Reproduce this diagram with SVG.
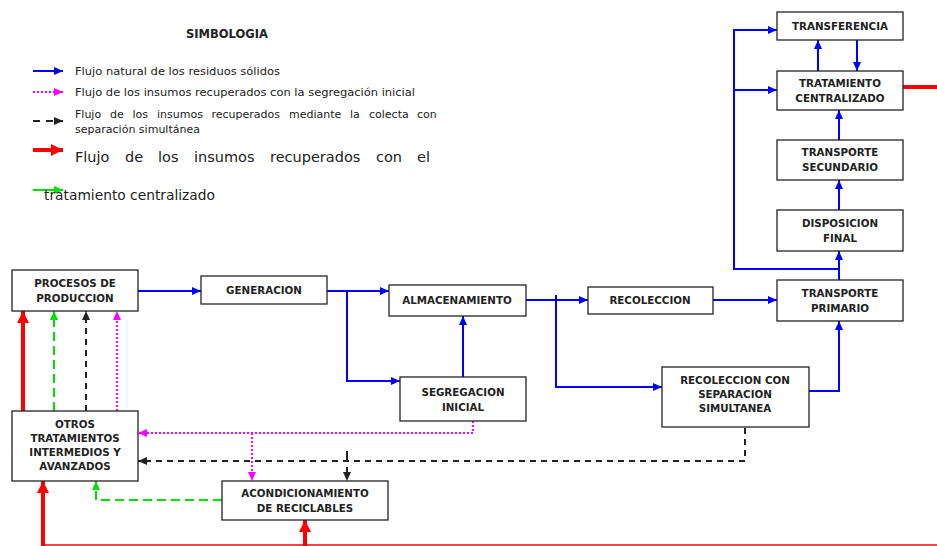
<svg xmlns="http://www.w3.org/2000/svg" width="937" height="546" viewBox="0 0 937 546">
<defs>
<style>
.box{fill:#fff;stroke:#222;stroke-width:1.3}
.lbl{font-family:"DejaVu Sans",Verdana,sans-serif;font-weight:bold;font-size:10.3px;fill:#222;text-anchor:middle}
.leg{font-family:"DejaVu Sans",Verdana,sans-serif;font-size:11px;fill:#222}
.legbig{font-family:"DejaVu Sans",Verdana,sans-serif;font-size:14.5px;fill:#222}
.b{stroke:#0000ff;stroke-width:2;fill:none}
.m{stroke:#ff00ff;stroke-width:2;fill:none;stroke-dasharray:2,2}
.k{stroke:#222;stroke-width:2;fill:none;stroke-dasharray:6,5}
.g{stroke:#00e000;stroke-width:2;fill:none;stroke-dasharray:9,5}
.r{stroke:#ff0000;stroke-width:4;fill:none}
.rt{stroke:#ff0000;stroke-width:1.5;fill:none}
</style>
<marker id="ab" markerUnits="userSpaceOnUse" markerWidth="9" markerHeight="8" refX="9" refY="4" orient="auto"><path d="M0,0 L9,4 L0,8 z" fill="#0000ff"/></marker>
<marker id="am" markerUnits="userSpaceOnUse" markerWidth="9" markerHeight="8" refX="9" refY="4" orient="auto"><path d="M0,0 L9,4 L0,8 z" fill="#ff00ff"/></marker>
<marker id="ak" markerUnits="userSpaceOnUse" markerWidth="9" markerHeight="8" refX="9" refY="4" orient="auto"><path d="M0,0 L9,4 L0,8 z" fill="#222"/></marker>
<marker id="ag" markerUnits="userSpaceOnUse" markerWidth="9" markerHeight="8" refX="9" refY="4" orient="auto"><path d="M0,0 L9,4 L0,8 z" fill="#00e000"/></marker>
<marker id="ar" markerUnits="userSpaceOnUse" markerWidth="12" markerHeight="12" refX="12" refY="6" orient="auto"><path d="M0,0 L12,6 L0,12 z" fill="#ff0000"/></marker>
</defs>
<rect width="937" height="546" fill="#fff"/>

<g id="legend">
<text x="227" y="38" class="lbl" style="font-size:11.5px">SIMBOLOGIA</text>
<line x1="33" y1="71" x2="63" y2="71" class="b" marker-end="url(#ab)"/>
<text x="75" y="75" class="leg" textLength="205" lengthAdjust="spacingAndGlyphs">Flujo natural de los residuos sólidos</text>
<line x1="33" y1="92" x2="63" y2="92" class="m" marker-end="url(#am)"/>
<text x="75" y="96" class="leg" textLength="340" lengthAdjust="spacingAndGlyphs">Flujo de los insumos recuperados con la segregación inicial</text>
<line x1="33" y1="121" x2="63" y2="121" class="k" style="stroke-dasharray:7,6" marker-end="url(#ak)"/>
<text y="118" class="leg"><tspan x="75">Flujo</tspan><tspan x="110">de</tspan><tspan x="132.5">los</tspan><tspan x="157">insumos</tspan><tspan x="211.5">recuperados</tspan><tspan x="289">mediante</tspan><tspan x="350">la</tspan><tspan x="369">colecta</tspan><tspan x="417">con</tspan></text>
<text x="75" y="133" class="leg" textLength="125" lengthAdjust="spacingAndGlyphs">separación simultánea</text>
<line x1="33" y1="150" x2="63" y2="150" class="r" marker-end="url(#ar)"/>
<text y="162" class="legbig"><tspan x="75">Flujo</tspan><tspan x="125">de</tspan><tspan x="158">los</tspan><tspan x="194">insumos</tspan><tspan x="270">recuperados</tspan><tspan x="376">con</tspan><tspan x="417">el</tspan></text>
<line x1="33" y1="190" x2="63" y2="190" class="b" style="stroke:#00e000" marker-end="url(#ag)"/>
<text x="44" y="200" class="legbig" textLength="171" lengthAdjust="spacingAndGlyphs">tratamiento centralizado</text>
</g>

<g id="connectors">
<line x1="138" y1="291" x2="201" y2="291" class="b" marker-end="url(#ab)"/>
<line x1="327" y1="291" x2="389" y2="291" class="b" marker-end="url(#ab)"/>
<polyline points="347,291 347,381 400,381" class="b" marker-end="url(#ab)"/>
<line x1="463" y1="377" x2="463" y2="316" class="b" marker-end="url(#ab)"/>
<line x1="526" y1="300" x2="588" y2="300" class="b" marker-end="url(#ab)"/>
<line x1="556" y1="295" x2="556" y2="300" class="b"/>
<polyline points="556,300 556,387 662,387" class="b" marker-end="url(#ab)"/>
<line x1="713" y1="300" x2="777" y2="300" class="b" marker-end="url(#ab)"/>
<polyline points="809,391 839,391 839,321" class="b" marker-end="url(#ab)"/>
<line x1="839" y1="280" x2="839" y2="251" class="b" marker-end="url(#ab)"/>
<line x1="839" y1="210" x2="839" y2="180" class="b" marker-end="url(#ab)"/>
<line x1="839" y1="140" x2="839" y2="110" class="b" marker-end="url(#ab)"/>
<polyline points="839,269 734,269 734,30 777,30" class="b" marker-end="url(#ab)"/>
<line x1="734" y1="90" x2="777" y2="90" class="b" marker-end="url(#ab)"/>
<line x1="818" y1="71" x2="818" y2="40" class="b" marker-end="url(#ab)"/>
<line x1="857" y1="40" x2="857" y2="71" class="b" marker-end="url(#ab)"/>
<polyline points="473,421 473,433 138,433" class="m" marker-end="url(#am)"/>
<line x1="252" y1="433" x2="252" y2="481" class="m" marker-end="url(#am)"/>
<line x1="117" y1="411" x2="117" y2="311" class="m" marker-end="url(#am)"/>
<polyline points="745,428 745,461 138,461" class="k" marker-end="url(#ak)"/>
<line x1="347" y1="451" x2="347" y2="481" class="k" style="stroke-dasharray:10,6" marker-end="url(#ak)"/>
<line x1="86" y1="411" x2="86" y2="311" class="k" marker-end="url(#ak)"/>
<polyline points="222,500 96,500 96,481" class="g" marker-end="url(#ag)"/>
<line x1="54" y1="411" x2="54" y2="311" class="g" marker-end="url(#ag)"/>
<line x1="23" y1="411" x2="23" y2="311" class="r" marker-end="url(#ar)"/>
<line x1="43" y1="546" x2="43" y2="481" class="r" marker-end="url(#ar)"/>
<line x1="305" y1="546" x2="305" y2="520" class="r" marker-end="url(#ar)"/>
<line x1="43" y1="545" x2="937" y2="545" class="rt"/>
<line x1="903" y1="87" x2="937" y2="87" class="r"/>
</g>

<g id="transferencia"><rect x="777" y="12" width="126" height="28" class="box"/><text x="840" y="30" class="lbl">TRANSFERENCIA</text></g>
<g id="tratamiento"><rect x="777" y="71" width="126" height="39" class="box"/><text x="840" y="87" class="lbl">TRATAMIENTO</text><text x="840" y="102" class="lbl">CENTRALIZADO</text></g>
<g id="transporte-secundario"><rect x="777" y="140" width="126" height="40" class="box"/><text x="840" y="156" class="lbl">TRANSPORTE</text><text x="840" y="171" class="lbl">SECUNDARIO</text></g>
<g id="disposicion"><rect x="777" y="210" width="126" height="41" class="box"/><text x="840" y="227" class="lbl">DISPOSICION</text><text x="840" y="242" class="lbl">FINAL</text></g>
<g id="transporte-primario"><rect x="777" y="280" width="126" height="41" class="box"/><text x="840" y="297" class="lbl">TRANSPORTE</text><text x="840" y="312" class="lbl">PRIMARIO</text></g>
<g id="procesos"><rect x="12" y="270" width="126" height="41" class="box"/><text x="75" y="287" class="lbl">PROCESOS DE</text><text x="75" y="302" class="lbl">PRODUCCION</text></g>
<g id="generacion"><rect x="201" y="276" width="126" height="28" class="box"/><text x="264" y="294" class="lbl">GENERACION</text></g>
<g id="almacenamiento"><rect x="389" y="285" width="137" height="31" class="box"/><text x="457" y="304" class="lbl">ALMACENAMIENTO</text></g>
<g id="segregacion"><rect x="400" y="377" width="126" height="44" class="box"/><text x="463" y="396" class="lbl">SEGREGACION</text><text x="463" y="411" class="lbl">INICIAL</text></g>
<g id="recoleccion"><rect x="588" y="287" width="125" height="27" class="box"/><text x="650" y="304" class="lbl">RECOLECCION</text></g>
<g id="recoleccion-separacion"><rect x="662" y="367" width="147" height="60" class="box"/><text x="735" y="384" class="lbl">RECOLECCION CON</text><text x="735" y="398" class="lbl">SEPARACION</text><text x="735" y="412" class="lbl">SIMULTANEA</text></g>
<g id="otros"><rect x="12" y="411" width="126" height="70" class="box"/><text x="75" y="428" class="lbl">OTROS</text><text x="75" y="442" class="lbl">TRATAMIENTOS</text><text x="75" y="456" class="lbl">INTERMEDIOS Y</text><text x="75" y="470" class="lbl">AVANZADOS</text></g>
<g id="acondicionamiento"><rect x="222" y="481" width="166" height="39" class="box"/><text x="305" y="497" class="lbl">ACONDICIONAMIENTO</text><text x="305" y="512" class="lbl">DE RECICLABLES</text></g>
</svg>
